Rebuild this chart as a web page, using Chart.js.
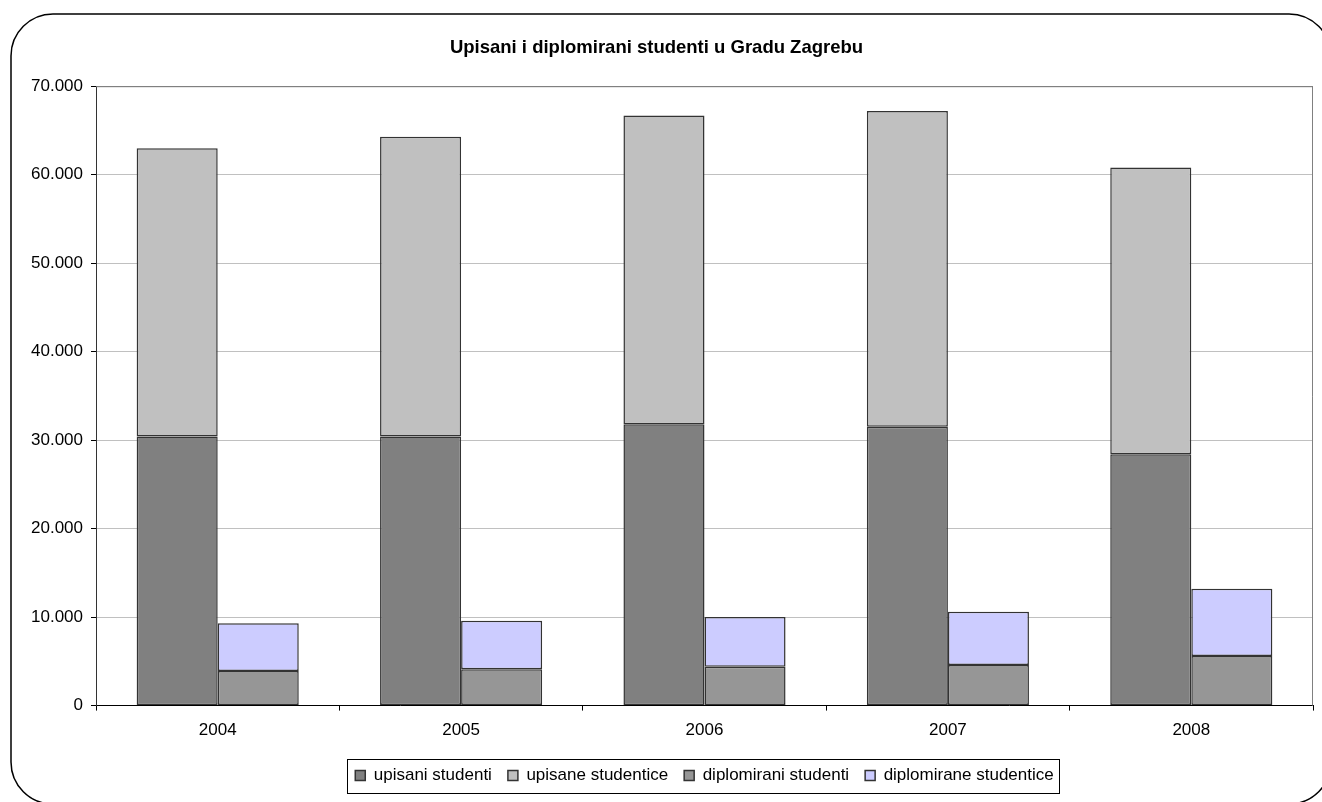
<!DOCTYPE html>
<html>
<head>
<meta charset="utf-8">
<script src="https://cdn.jsdelivr.net/npm/chart.js@4"></script>
<style>
  html, body { margin: 0; padding: 0; background: #fff; }
  #wrap { width: 1322px; height: 802px; position: relative; }
</style>
</head>
<body>
<div id="wrap"><canvas id="c"></canvas></div>
<script>
const years = ['2004', '2005', '2006', '2007', '2008'];
const upisaniStudenti = [30400, 30400, 31800, 31500, 28400];
const upisaneStudentice = [32600, 33900, 34900, 35700, 32400];
const diplomiraniStudenti = [3900, 4100, 4400, 4600, 5600];
const diplomiraneStudentice = [5400, 5500, 5600, 6000, 7600];

// thousands with a dot, like 70.000
const fmt = v => String(v).replace(/\B(?=(\d{3})+(?!\d))/g, '.');

Chart.defaults.font.family = '"Liberation Sans", Arial, sans-serif';
Chart.defaults.font.size = 17;
Chart.defaults.color = '#000';

const framePlugin = {
  id: 'frame',
  beforeDraw(chart) {
    const ctx = chart.ctx;
    ctx.save();
    ctx.fillStyle = '#fff';
    ctx.fillRect(0, 0, chart.width, chart.height);
    ctx.strokeStyle = '#000';
    ctx.lineWidth = 1.5;
    ctx.beginPath();
    ctx.roundRect(11, 14, 1320, 790, 42);
    ctx.stroke();
    ctx.restore();
  },
  afterDatasetsDraw(chart) {
    const { ctx, chartArea: a } = chart;
    ctx.save();
    ctx.strokeStyle = '#808080';
    ctx.lineWidth = 1;
    ctx.beginPath();
    ctx.moveTo(a.left, a.top + 0.5);
    ctx.lineTo(a.right - 0.5, a.top + 0.5);
    ctx.lineTo(a.right - 0.5, a.bottom);
    ctx.stroke();
    ctx.restore();
  },
  afterDraw(chart) {
    const lg = chart.legend;
    if (!lg || !lg.legendHitBoxes.length) return;
    const boxes = lg.legendHitBoxes;
    const l = Math.min(...boxes.map(b => b.left));
    const r = Math.max(...boxes.map(b => b.left + b.width));
    const t = boxes[0].top, h = boxes[0].height;
    const ctx = chart.ctx;
    ctx.save();
    ctx.strokeStyle = '#000';
    ctx.lineWidth = 1;
    ctx.strokeRect(Math.round(l - 8) + 0.5, Math.round(t + h / 2 - 17) + 0.5, Math.round(r - l + 14), 34);
    ctx.restore();
  }
};

new Chart(document.getElementById('c'), {
  type: 'bar',
  data: {
    labels: years,
    datasets: [
      { label: 'upisani studenti', data: upisaniStudenti, stack: 'upisani', backgroundColor: '#808080' },
      { label: 'upisane studentice', data: upisaneStudentice, stack: 'upisani', backgroundColor: '#c0c0c0' },
      { label: 'diplomirani studenti', data: diplomiraniStudenti, stack: 'diplomirani', backgroundColor: '#969696' },
      { label: 'diplomirane studentice', data: diplomiraneStudentice, stack: 'diplomirani', backgroundColor: '#ccccff' }
    ].map(d => Object.assign(d, {
      borderColor: '#333333',
      borderWidth: 1.5,
      borderSkipped: false,
      categoryPercentage: 0.666,
      barPercentage: 1
    }))
  },
  plugins: [framePlugin],
  options: {
    responsive: true,
    maintainAspectRatio: false,
    animation: false,
    layout: { padding: { left: 0, right: 9, top: 0, bottom: 8 } },
    scales: {
      x: {
        stacked: true,
        grid: { display: true, drawOnChartArea: false, tickLength: 5, tickColor: '#000', offset: true },
        border: { color: '#000', width: 1 },
        ticks: { padding: 10, color: '#000' }
      },
      y: {
        stacked: true,
        min: 0,
        max: 70000,
        afterFit: s => { s.width = 96; },
        ticks: { stepSize: 10000, padding: 8, callback: v => fmt(v), color: '#000' },
        grid: {
          color: c => (c.tick && c.tick.value === 70000 ? '#808080' : '#c0c0c0'),
          tickLength: 5,
          tickColor: '#000'
        },
        border: { color: '#333333', width: 1 }
      }
    },
    plugins: {
      title: {
        display: true,
        text: 'Upisani i diplomirani studenti u Gradu Zagrebu',
        font: { size: 18.5, weight: 'bold' },
        color: '#000',
        padding: { top: 37, bottom: 27 }
      },
      legend: {
        position: 'bottom',
        fullSize: false,
        labels: { boxWidth: 10, boxHeight: 10, padding: 16, color: '#000' }
      },
      tooltip: { enabled: false }
    }
  }
});
</script>
</body>
</html>
